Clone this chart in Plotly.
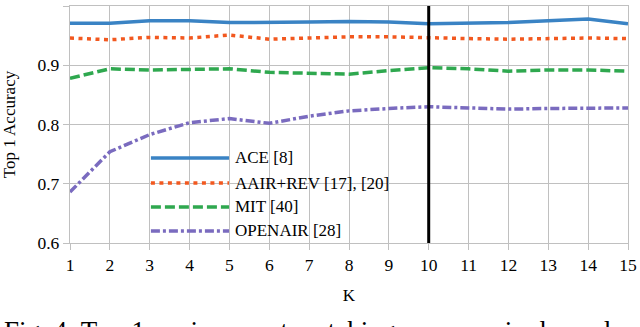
import plotly.graph_objects as go

K = list(range(1, 16))

ace = [0.971, 0.971, 0.975, 0.975, 0.972, 0.972, 0.973, 0.974, 0.973, 0.970, 0.971, 0.972, 0.975, 0.978, 0.970]
aair_rev = [0.946, 0.943, 0.947, 0.946, 0.951, 0.944, 0.946, 0.948, 0.948, 0.946, 0.945, 0.944, 0.945, 0.946, 0.945]
mit = [0.878, 0.894, 0.892, 0.893, 0.894, 0.888, 0.886, 0.885, 0.891, 0.896, 0.894, 0.890, 0.892, 0.892, 0.890]
openair = [0.686, 0.754, 0.783, 0.803, 0.810, 0.802, 0.814, 0.823, 0.827, 0.830, 0.828, 0.826, 0.827, 0.828, 0.828]

names = ["ACE [8]", "AAIR+REV [17], [20]", "MIT [40]", "OPENAIR [28]"]
colors = ["#3a83c4", "#f2581f", "#2fa84f", "#7a6bbf"]
dashes = ["solid", "4px,4.5px", "10px,4px", "9px,3px,3px,3px"]

x_ticks = list(range(1, 16))
y_ticks = [0.6, 0.7, 0.8, 0.9, 1.0]
y_tick_labels = ["0.6", "0.7", "0.8", "0.9", "1"]
k_selected = 10

caption = "Fig. 4: Top-1 environment matching accuracy in dependence"

FONT = "Liberation Serif, Times New Roman, serif"

fig = go.Figure()
for name, ys, color, dash in zip(names, [ace, aair_rev, mit, openair], colors, dashes):
    fig.add_trace(
        go.Scatter(
            x=K,
            y=ys,
            mode="lines",
            name=name,
            line=dict(color=color, width=3.5, dash=dash),
            showlegend=False,
        )
    )

fig.add_vline(x=k_selected, line=dict(color="black", width=3), layer="above")

# hand-made legend so the line samples are long like in the original
legend_y = [0.359, 0.253, 0.152, 0.051]
for name, color, dash, ly in zip(names, colors, dashes, legend_y):
    fig.add_shape(
        type="line",
        xref="paper",
        yref="paper",
        x0=0.145,
        x1=0.285,
        y0=ly,
        y1=ly,
        line=dict(color=color, width=3.5, dash=dash),
    )
    fig.add_annotation(
        text=name,
        xref="paper",
        yref="paper",
        x=0.292,
        y=ly,
        xanchor="left",
        yanchor="middle",
        showarrow=False,
        font=dict(family=FONT, size=17, color="black"),
    )

# figure caption, only its top edge shows at the bottom of the crop
fig.add_annotation(
    text=caption,
    xref="paper",
    yref="paper",
    x=-0.122,
    y=-0.30,
    xanchor="left",
    yanchor="top",
    showarrow=False,
    font=dict(family=FONT, size=27, color="black"),
)

fig.update_layout(
    width=640,
    height=327,
    margin=dict(l=70, r=12, t=6, b=84),
    plot_bgcolor="white",
    paper_bgcolor="white",
    font=dict(family=FONT, size=17, color="black"),
)
fig.update_xaxes(
    range=[1, 15],
    tickvals=x_ticks,
    showgrid=True,
    gridcolor="#c0c0c0",
    gridwidth=1.3,
    zeroline=False,
    showline=True,
    linecolor="#c0c0c0",
    linewidth=1.3,
    mirror=True,
    ticks="outside",
    ticklen=6,
    tickcolor="#c0c0c0",
    tickfont=dict(size=17.5),
    automargin=False,
    title=dict(text="K", standoff=14, font=dict(size=17)),
)
fig.update_yaxes(
    range=[0.6, 1.0],
    tickvals=y_ticks,
    ticktext=y_tick_labels,
    showgrid=True,
    gridcolor="#c0c0c0",
    gridwidth=1.3,
    zeroline=False,
    showline=True,
    linecolor="#c0c0c0",
    linewidth=1.3,
    mirror=True,
    ticks="outside",
    ticklen=6,
    tickcolor="#c0c0c0",
    tickfont=dict(size=17.5),
    automargin=False,
    title=dict(text="Top 1 Accuracy", standoff=20, font=dict(size=17)),
)

# the page body has a default 8px margin; drop it so the figure sits at the corner
fig.write_html(
    "out.html",
    config={"displayModeBar": False},
    post_script="document.body.style.margin='0';",
)
